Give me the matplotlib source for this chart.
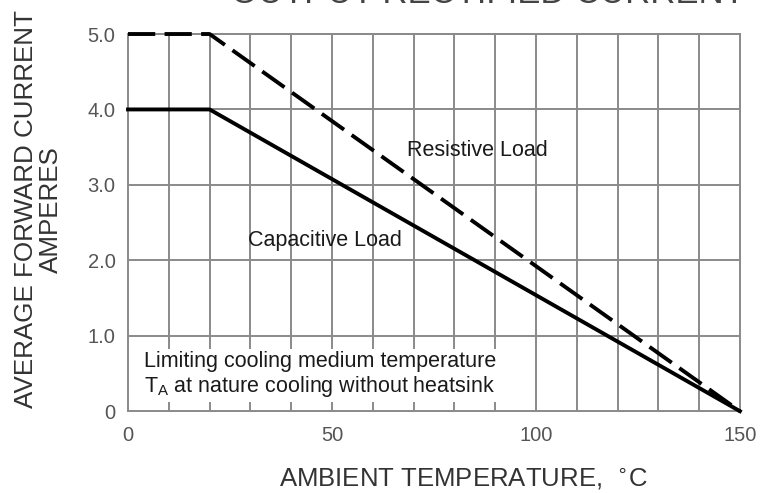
import matplotlib.pyplot as plt
from matplotlib.patches import Rectangle

plt.rcParams['font.family'] = ['Liberation Sans', 'DejaVu Sans']

# derating curve data
temp_res = [0, 20, 150]
amps_res = [5.0, 5.0, 0.0]
temp_cap = [0, 20, 150]
amps_cap = [4.0, 4.0, 0.0]

x_ticks = [0, 50, 100, 150]
y_ticks = [0, 1.0, 2.0, 3.0, 4.0, 5.0]
y_labels = ["0", "1.0", "2.0", "3.0", "4.0", "5.0"]

grey = '#555555'
gridc = '#8a8a8a'

fig = plt.figure(figsize=(7.62, 4.93), dpi=100)
ax = fig.add_axes([0.168, 0.166, 0.803, 0.765])

ax.set_xlim(0, 150)
ax.set_ylim(0, 5.0)

# grid every 10 degrees
for t in range(10, 150, 10):
    ax.axvline(t, color=gridc, lw=1.4, zorder=1)
for a in y_ticks[1:]:
    ax.axhline(a, color=gridc, lw=1.4, zorder=1)

for s in ax.spines.values():
    s.set_color(gridc)
    s.set_linewidth(1.4)

ax.set_xticks(x_ticks)
ax.set_yticks(y_ticks)
ax.set_yticklabels(y_labels)
ax.tick_params(length=0, pad=9, labelsize=14.5, colors=grey)
ax.tick_params(axis='x', pad=11)

ax.plot(temp_res, amps_res, color='black', lw=2.8, dashes=(7, 2.4), zorder=4, clip_on=False)
ax.plot(temp_cap, amps_cap, color='black', lw=2.8, zorder=4, clip_on=False)

ax.text(68.5, 3.46, "Resistive Load", fontsize=15.5, color='#1a1a1a', va='center', zorder=3)
ax.text(29.5, 2.26, "Capacitive Load", fontsize=15.5, color='#1a1a1a', va='center', zorder=3)

# white box over grid for note
ax.add_patch(Rectangle((0.5, 0.12), 94, 0.71, facecolor='white', edgecolor='none', zorder=2))
ax.text(3.8, 0.48, "Limiting cooling medium temperature\nT$_\\mathregular{A}$ at nature cooling without heatsink",
        fontsize=15.5, color='#1a1a1a', va='center', linespacing=1.1, zorder=3)

ax.set_xlabel("AMBIENT TEMPERATURE,  $^{\\circ}$C", fontsize=18.5, color='#333333')
ax.xaxis.set_label_coords(0.548, -0.18)
ax.xaxis.label.set_va('center')
ax.set_ylabel("AVERAGE FORWARD CURRENT\nAMPERES", fontsize=18.7, color='#333333',
              linespacing=1.05)
ax.yaxis.set_label_coords(-0.146, 0.535)
ax.yaxis.label.set_va('center')

fig.text(0.64, 1 - 3 / 493, "OUTPUT RECTIFIED CURRENT", ha='center', va='baseline',
         fontsize=25, color='#444444')

fig.savefig("out.png", dpi=100)
